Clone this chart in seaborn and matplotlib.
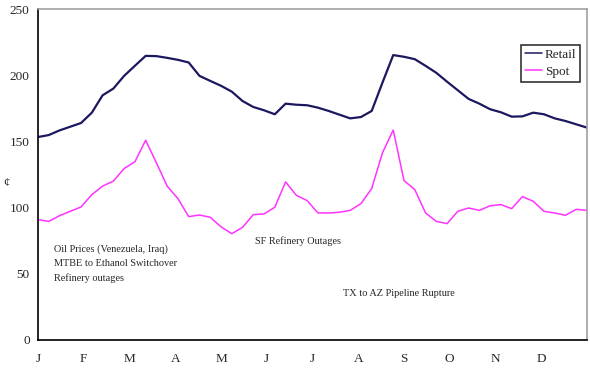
import numpy as np
import pandas as pd
import matplotlib
matplotlib.use("Agg")
import matplotlib.pyplot as plt
import seaborn as sns

# -----------------------------
# Weekly gasoline prices (cents)
# -----------------------------

months = ["J", "F", "M", "A", "M", "J", "J", "A", "S", "O", "N", "D"]

retail = [
    153.3, 154.8, 158.3, 161.1, 163.9, 171.7, 184.8, 189.9, 199.5, 207.1,
    214.6, 214.4, 213.1, 211.6, 209.6, 199.5, 195.7, 192.0, 187.6, 180.5,
    176.0, 173.5, 170.5, 178.5, 177.7, 177.3, 175.5, 173.0, 170.2, 167.4,
    168.4, 173.0, 194.4, 215.2, 213.9, 212.1, 207.1, 201.8, 195.1, 188.6,
    182.1, 178.5, 174.3, 172.0, 168.7, 168.9, 171.7, 170.5, 167.4, 165.4,
    162.9, 160.4,
]

spot = [
    90.9, 89.6, 93.9, 97.2, 100.5, 109.8, 116.2, 120.0, 129.5, 134.6,
    150.9, 133.8, 116.2, 106.8, 93.2, 94.4, 92.7, 85.5, 80.3, 85.1,
    94.7, 95.2, 100.3, 119.4, 109.3, 105.3, 96.0, 95.9, 96.5, 97.9,
    103.0, 114.4, 141.4, 158.6, 120.4, 113.6, 96.0, 89.6, 87.9, 97.2,
    99.7, 97.9, 101.4, 102.3, 99.2, 108.3, 104.8, 97.2, 95.9, 94.2,
    98.7, 97.9,
]

notes = [
    ("Oil Prices (Venezuela, Iraq)", 1.5, 68.4),
    ("MTBE to Ethanol Switchover", 1.5, 57.6),
    ("Refinery outages", 1.5, 46.7),
    ("SF Refinery Outages", 20.2, 75.0),
    ("TX to AZ Pipeline Rupture", 28.3, 35.4),
]

week = np.arange(len(retail))
df = pd.DataFrame({
    "Week": np.concatenate([week, week]),
    "Price": retail + spot,
    "Series": ["Retail"] * len(retail) + ["Spot"] * len(spot),
})

# -----------------------------
# Plot
# -----------------------------

sns.set_style("white")
plt.rcParams["font.family"] = ["Liberation Serif", "DejaVu Serif"]

fig = plt.figure(figsize=(5.9, 3.68), dpi=100)
ax = fig.add_axes([38 / 590, 1 - 340 / 368, 549 / 590, 331 / 368])

sns.lineplot(data=df, x="Week", y="Price", hue="Series",
             palette={"Retail": "#1c1860", "Spot": "#ff33ff"},
             size="Series", sizes={"Retail": 1.6, "Spot": 1.1},
             ax=ax)

ax.set_xlim(0, len(retail) - 1)
ax.set_ylim(0, 250)
ax.set_yticks([0, 50, 100, 150, 200, 250])
ax.set_xticks(np.linspace(0, len(retail) - 1, 13)[:-1])
ax.set_xticklabels(months)
ax.tick_params(axis="x", direction="in", length=4, width=1, color="black",
               labelsize=9.5, pad=9)
ax.tick_params(axis="y", length=0, labelsize=9.5, pad=6)

ax.set_xlabel("")
ax.set_ylabel("¢", rotation=0, fontsize=9, va="center")
ax.yaxis.set_label_coords(-0.058, 0.474)

for side in ["left", "bottom"]:
    ax.spines[side].set_color("black")
    ax.spines[side].set_linewidth(1.2)
for side in ["top", "right"]:
    ax.spines[side].set_color("#a0a0a0")
    ax.spines[side].set_linewidth(1.2)

for text, x, y in notes:
    ax.text(x, y, text, fontsize=7.4, va="center", ha="left")

leg = ax.legend(loc="upper right", bbox_to_anchor=(0.988, 0.892),
                borderaxespad=0, fontsize=9.5, handlelength=1.3,
                borderpad=0.3, labelspacing=0.35, handletextpad=0.2,
                fancybox=False)
leg.get_frame().set_edgecolor("black")
leg.get_frame().set_linewidth(1.2)
for line in leg.get_lines():
    line.set_linewidth(1.1)

fig.savefig("out.png", dpi=100)
